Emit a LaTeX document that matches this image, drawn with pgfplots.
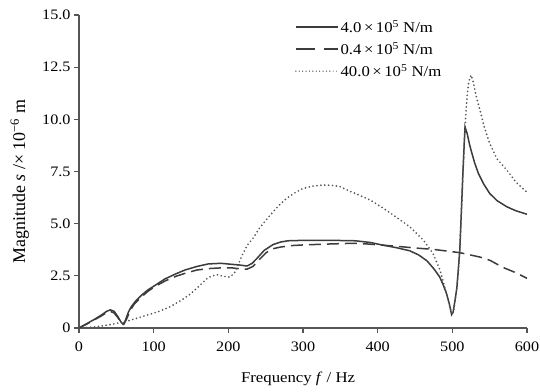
\documentclass[border=0pt]{standalone}
\usepackage{fontspec}
\setmainfont{Liberation Serif}[FakeStretch=1.12]
\newfontfamily\ylfont{Liberation Serif}
\usepackage{pgfplots}
\pgfplotsset{compat=1.18}
\definecolor{axgray}{HTML}{555555}
\definecolor{lngray}{HTML}{3C3C3C}
\definecolor{dtgray}{HTML}{555555}
\begin{document}
\begin{tikzpicture}
\useasboundingbox (-79bp,-64bp) rectangle (461bp,328bp);
\begin{axis}[
  scale only axis, width=448bp, height=313bp,
  at={(0,0)}, anchor=south west,
  xmin=0, xmax=600, ymin=0, ymax=15,
  axis x line=bottom, axis y line=left,
  axis line style={axgray, line width=1.3bp, -},
  xtick={0,100,...,600}, ytick={0,2.5,5,7.5,10,12.5,15},
  yticklabels={0,2.5,5.0,7.5,10.0,12.5,15.0},
  tick style={axgray, line width=1.2bp},
  tick align=outside, major tick length=5bp,
  tick label style={font=\fontsize{14.5}{16}\selectfont, text=black},
  xticklabel style={yshift=-5bp},
  /pgf/number format/assume math mode=true,
  xlabel={Frequency \textit{f} / Hz},
  xlabel style={font=\fontsize{15}{17}\selectfont, at={(axis description cs:0.489,0)}, anchor=center, yshift=-51bp},
  ylabel={\ylfont Magnitude \textit{s} /× 10\textsuperscript{−6} m},
  ylabel style={font=\fontsize{18}{20}\selectfont, at={(axis description cs:-0.132,0.468)}, anchor=center},
  legend cell align=left,
  legend style={at={(axis description cs:0.482,0.99)}, anchor=north west, draw=none, fill=none,
    font=\fontsize{15}{17}\selectfont, inner sep=0pt, row sep=4.5bp},
  legend image code/.code={\path (0bp,0bp) -- (42bp,0bp); \draw[#1] (0bp,0bp) -- (36bp,0bp);},
]
\addplot[lngray, line width=1.5bp] coordinates {
(0,0) (5,0.1) (10,0.2) (20,0.4) (30,0.62) (37,0.8) (42,0.87) (47,0.8) (52,0.55) (56,0.3) (59,0.18) (62,0.35) (66,0.75) (70,1.02) (76,1.3) (84,1.58) (92,1.82) (100,2.0) (115,2.35) (130,2.6) (142,2.78) (158,2.95) (173,3.07) (190,3.1) (205,3.05) (215,3.02) (225,2.97) (232,3.1) (240,3.4) (248,3.72) (260,4.0) (270,4.12) (280,4.18) (300,4.2) (340,4.2) (370,4.18) (390,4.1) (407,3.97) (425,3.85) (443,3.7) (455,3.5) (466,3.22) (475,2.85) (483,2.45) (488,2.05) (492,1.67) (496,1.15) (499,0.64) (501,0.75) (503,1.2) (506,1.9) (508,2.8) (510,3.74) (512,5.5) (514,7.3) (516,8.9) (517,9.63) (520,9.3) (523,8.8) (526,8.4) (530,7.9) (535,7.4) (542,6.9) (550,6.45) (560,6.1) (573,5.81) (585,5.62) (600,5.45)
};
\addlegendentry{4.0\,×\,10\textsuperscript{5} N/m}
\addplot[lngray, line width=1.5bp, dash pattern=on 12bp off 6bp,
  legend image post style={dash pattern=on 19bp off 9bp}] coordinates {
(0,0) (10,0.18) (20,0.38) (30,0.58) (37,0.74) (42,0.8) (47,0.72) (52,0.5) (56,0.28) (60,0.18) (64,0.45) (68,0.8) (74,1.15) (84,1.5) (92,1.75) (100,1.95) (115,2.25) (130,2.48) (142,2.62) (158,2.78) (175,2.85) (190,2.88) (205,2.88) (215,2.84) (225,2.82) (233,2.95) (242,3.3) (251,3.62) (260,3.8) (270,3.88) (285,3.95) (300,3.98) (330,4.02) (367,4.06) (385,4.03) (407,3.97) (430,3.9) (455,3.82) (474,3.77) (490,3.7) (510,3.61) (537,3.4) (550,3.25) (568,2.9) (585,2.65) (600,2.38)
};
\addlegendentry{0.4\,×\,10\textsuperscript{5} N/m}
\addplot[dtgray, line width=1.9bp, line cap=round, dash pattern=on 0bp off 3.9bp,
  legend image post style={line width=1.1bp, dash pattern=on 0bp off 3.4bp}] coordinates {
(0,0) (10,0.02) (21,0.05) (40,0.15) (62,0.3) (85,0.55) (106,0.78) (122,1.02) (137.5,1.34) (150,1.65) (160,1.98) (173,2.42) (184,2.56) (193,2.48) (202,2.44) (208,2.62) (213,3.0) (218,3.45) (225,3.95) (233,4.3) (242,4.8) (256,5.41) (267,5.85) (278,6.21) (290,6.5) (300,6.69) (313,6.8) (327,6.85) (340,6.83) (350,6.77) (363,6.55) (372,6.42) (390,6.13) (405,5.8) (421,5.41) (443,4.85) (461,4.22) (474,3.58) (483.5,2.78) (492,1.67) (496,1.1) (499,0.71) (502,0.9) (505,1.6) (508,2.7) (510,3.74) (512,5.4) (514,7.2) (516,8.9) (518,10.2) (520,11.2) (522,11.8) (525,12.12) (528,11.8) (532,11.1) (537,10.45) (543,9.6) (550,8.85) (560,8.1) (573,7.57) (585,7.0) (600,6.5)
};
\addlegendentry{40.0\,×\,10\textsuperscript{5} N/m}
\end{axis}
\end{tikzpicture}
\end{document}
